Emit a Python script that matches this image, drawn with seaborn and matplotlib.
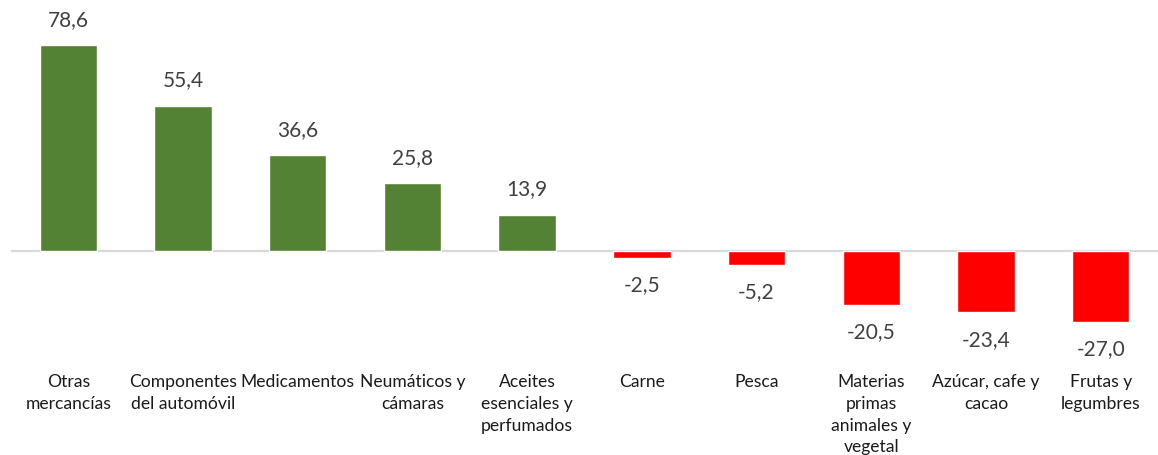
import matplotlib
matplotlib.use("Agg")
import matplotlib.pyplot as plt
import seaborn as sns
import pandas as pd

categories = [
    "Otras\nmercancías",
    "Componentes\ndel automóvil",
    "Medicamentos",
    "Neumáticos y\ncámaras",
    "Aceites\nesenciales y\nperfumados",
    "Carne",
    "Pesca",
    "Materias\nprimas\nanimales y\nvegetal",
    "Azúcar, cafe y\ncacao",
    "Frutas y\nlegumbres",
]
values = [78.6, 55.4, 36.6, 25.8, 13.9, -2.5, -5.2, -20.5, -23.4, -27.0]

GREEN = "#548235"
RED = "#FF0000"

sns.set_theme(style="white")
plt.rcParams["font.family"] = ["Lato", "DejaVu Sans"]

df = pd.DataFrame({"cat": categories, "val": values})
df["signo"] = ["pos" if v >= 0 else "neg" for v in values]

fig = plt.figure(figsize=(11.58, 4.56), dpi=100)
ax = fig.add_axes([11 / 1158, (456 - 362) / 456, 1 - 11 / 1158, 362 / 456])

sns.barplot(
    data=df, x="cat", y="val", hue="signo",
    palette={"pos": GREEN, "neg": RED},
    dodge=False, width=0.5, legend=False, ax=ax, saturation=1,
)

ax.axhline(0, color="#D9D9D9", lw=1.6, zorder=0.5)
ax.set_xlim(-0.5, len(categories) - 0.5)
ax.set_ylim(-42, 96.2)

# value labels above/below each bar, decimal comma
for i, v in enumerate(values):
    off = 19 if v >= 0 else -19
    ax.annotate(
        f"{v:.1f}".replace(".", ","),
        xy=(i, v), xytext=(0, off), textcoords="offset points",
        ha="center", va="center", fontsize=15, color="#404040",
    )

ax.set_xlabel("")
ax.set_ylabel("")
ax.set_yticks([])
ax.set_xticks(range(len(categories)))
ax.set_xticklabels(categories, fontsize=12.6, color="#1a1a1a", linespacing=1.45,
                   va="top")
ax.tick_params(axis="x", length=0, pad=8.5)
for s in ax.spines.values():
    s.set_visible(False)

fig.savefig("out.png", dpi=100)
